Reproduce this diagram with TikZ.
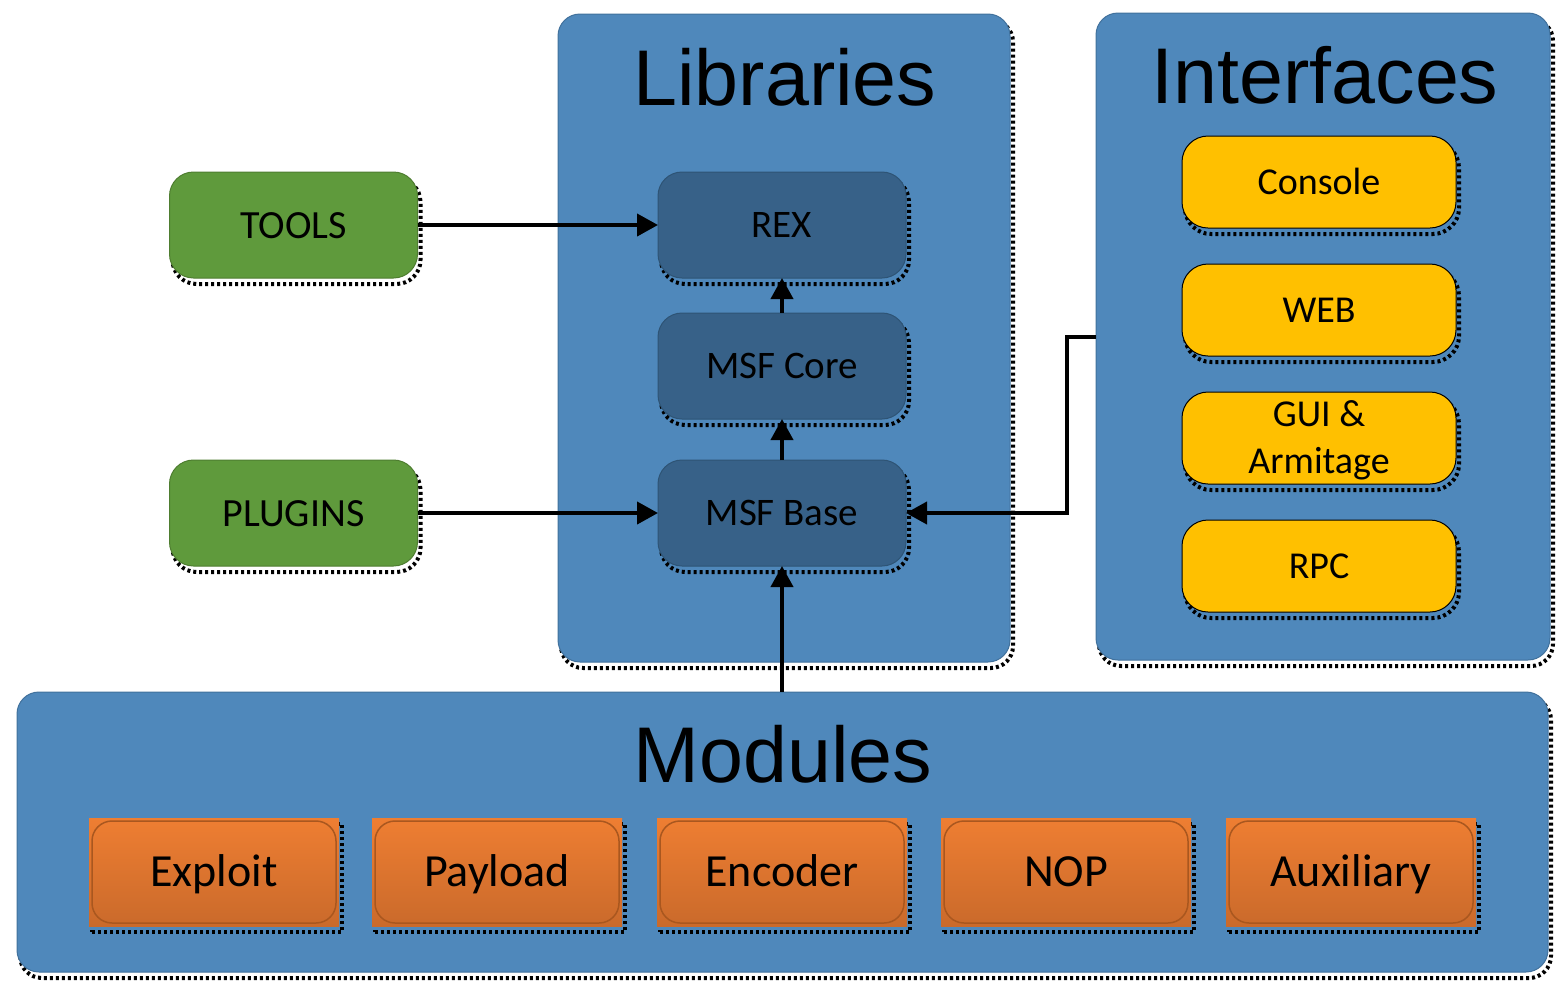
\documentclass[tikz,border=0pt]{standalone}
\usepackage{fontspec}
\setmainfont{Carlito}
\newfontfamily\titlefont{Liberation Sans}
\usetikzlibrary{positioning, arrows.meta}
\definecolor{blockblue}{HTML}{4F88BB}
\definecolor{blockedge}{HTML}{41719C}
\definecolor{libblue}{HTML}{376188}
\definecolor{libedge}{HTML}{2E5475}
\definecolor{toolgreen}{HTML}{5F9A3C}
\definecolor{tooledge}{HTML}{4E7D30}
\definecolor{ifacegold}{HTML}{FFC000}
\definecolor{modtop}{HTML}{EE7E32}
\definecolor{modbot}{HTML}{CA6A2B}
\definecolor{modedge}{HTML}{A9571F}
\tikzset{
    >={Triangle[length=21pt,width=22pt]}, % big filled heads
    dotshadow/.style={preaction={draw=black, line width=4pt, dash pattern=on 3pt off 3pt,
        transform canvas={shift={(3pt,-6pt)}}}}, % the dotted shadow round each box
    block/.style={dotshadow, draw=blockedge, line width=1pt, fill=blockblue, rounded corners=22pt},
    lib/.style={dotshadow, draw=libedge, line width=1pt, fill=libblue, rounded corners=24pt, outer sep=0pt,
        minimum width=248pt, minimum height=106pt, font=\fontsize{39}{47}\selectfont,
        text height=25pt, text depth=0pt},
    tool/.style={lib, draw=tooledge, fill=toolgreen, font=\fontsize{40}{48}\selectfont, text height=26pt},
    iface/.style={lib, draw=black, fill=ifacegold, rounded corners=26pt,
        minimum width=274pt, minimum height=92pt, font=\fontsize{38}{47}\selectfont, text height=24.5pt},
    module/.style={dotshadow, top color=modtop, bottom color=modbot, outer sep=0pt,
        minimum width=250pt, minimum height=108pt, font=\fontsize{46}{55}\selectfont,
        text height=29.5pt, text depth=0pt},
    modframe/.style={draw=modedge, line width=1.5pt, rounded corners=20pt},
    title/.style={font=\titlefont\fontsize{79}{90}\selectfont, anchor=base},
    link/.style={->, line width=4pt},
}
\begin{document}
\begin{tikzpicture}[x=1pt, y=-1pt]
\useasboundingbox (0,0) rectangle (1565,989);
% the three large groups
\node[block, minimum width=452pt, minimum height=648pt] (libraries) at (784,338) {};
\node[block, minimum width=454pt, minimum height=647pt] (interfaces) at (1323,336.5) {};
\node[block, minimum width=1531pt, minimum height=280pt] (modules) at (782.5,832) {};
\node[title] (libtitle) at (785,105) {Libraries};
\node[title] (ifacetitle) at (1325,103) {Interfaces};
\node[title] (modtitle) at (783,782) {Modules};
% tools and plugins
\node[tool] (tools) at (293.5,225) {TOOLS};
\node[tool, below=182pt of tools] (plugins) {PLUGINS};
% libraries
\node[lib] (rex) at (782,225) {REX};
\node[lib, below=35pt of rex] (core) {MSF Core};
\node[lib, below=41pt of core] (base) {MSF Base};
% interfaces
\node[iface] (console) at (1319,182) {Console};
\node[iface, below=36pt of console] (web) {WEB};
\node[iface, below=36pt of web, text height=71.5pt, align=center] (gui) {GUI \&\\Armitage};
\node[iface, below=36pt of gui] (rpc) {RPC};
% modules
\node[module] (exploit) at (214,872) {Exploit};
\node[module, right=33pt of exploit] (payload) {Payload};
\node[module, right=35pt of payload] (encoder) {Encoder};
\node[module, right=34pt of encoder] (nop) {NOP};
\node[module, right=35pt of nop] (auxiliary) {Auxiliary};
\foreach \m in {exploit,payload,encoder,nop,auxiliary}
    \draw[modframe] ([xshift=3pt,yshift=-3pt]\m.north west) rectangle ([xshift=-3pt,yshift=3pt]\m.south east);
% connectors
\draw[link] (tools) -- (rex);
\draw[link] (plugins) -- (base);
\draw[link] (core) -- (rex);
\draw[link] (base) -- (core);
\draw[link] (base.south |- modules.north) -- (base.south);
\draw[link] (interfaces.west) -- ++(-29,0) |- (base.east);
\end{tikzpicture}
\end{document}
